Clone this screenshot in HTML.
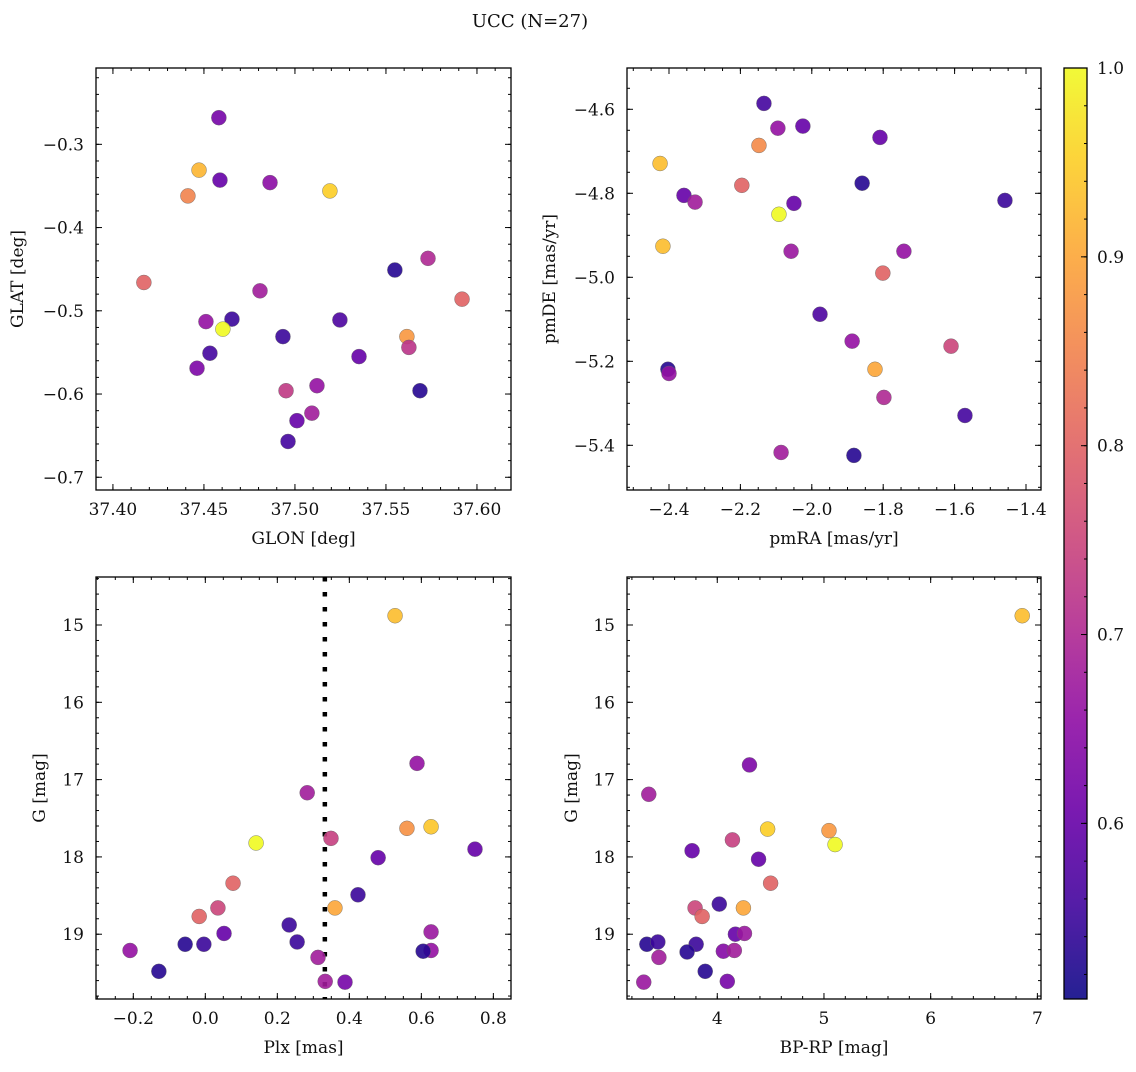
<!DOCTYPE html>
<html><head><meta charset="utf-8"><style>
html,body{margin:0;padding:0;background:#fff}
svg text{font-family:"DejaVu Serif","Liberation Serif",serif;fill:#111}
</style></head><body>
<svg id="fig" width="1136" height="1067" viewBox="0 0 1136 1067" xmlns="http://www.w3.org/2000/svg">
<text x="530" y="27" text-anchor="middle" font-size="18">UCC (N=27)</text>
</svg>
<script>
// ---- data ----
const glon = [37.4582,37.4473,37.4588,37.4412,37.4863,37.5192,37.4170,37.5549,37.5731,37.4808,37.5918,37.4511,37.4654,37.4604,37.5247,37.4934,37.5615,37.4533,37.5352,37.5626,37.4462,37.5121,37.4951,37.5687,37.5093,37.5011,37.4962];
const glat = [-0.268,-0.331,-0.343,-0.362,-0.346,-0.356,-0.466,-0.451,-0.437,-0.476,-0.486,-0.513,-0.510,-0.522,-0.511,-0.531,-0.531,-0.551,-0.555,-0.544,-0.569,-0.590,-0.596,-0.596,-0.623,-0.632,-0.657];
const cTL = [0.62,0.92,0.60,0.85,0.65,0.95,0.80,0.53,0.70,0.68,0.80,0.66,0.55,1.00,0.57,0.55,0.88,0.56,0.60,0.72,0.63,0.66,0.73,0.53,0.68,0.60,0.56];

const pmra = [-2.134,-2.095,-2.025,-2.148,-1.809,-2.425,-2.196,-1.859,-2.358,-2.327,-2.092,-2.050,-1.459,-2.417,-2.058,-1.742,-1.801,-1.977,-1.887,-1.610,-1.823,-2.403,-2.400,-1.798,-1.571,-2.086,-1.882];
const pmde = [-4.586,-4.645,-4.640,-4.686,-4.667,-4.729,-4.781,-4.776,-4.805,-4.821,-4.850,-4.824,-4.817,-4.926,-4.938,-4.938,-4.990,-5.088,-5.152,-5.164,-5.219,-5.219,-5.229,-5.286,-5.329,-5.417,-5.424];
const cTR = [0.56,0.66,0.60,0.86,0.60,0.93,0.80,0.53,0.60,0.68,1.00,0.60,0.55,0.93,0.67,0.66,0.80,0.57,0.66,0.75,0.90,0.53,0.66,0.70,0.56,0.68,0.53];

const plx = [0.527,0.588,0.283,0.141,0.349,0.560,0.627,0.480,0.749,0.077,-0.017,0.035,0.360,0.424,0.233,0.052,0.255,-0.056,-0.004,-0.209,0.313,0.627,0.627,0.605,-0.129,0.333,0.388];
const gBL = [14.88,16.79,17.17,17.82,17.76,17.63,17.61,18.01,17.90,18.34,18.77,18.66,18.66,18.49,18.88,18.99,19.10,19.13,19.13,19.21,19.30,18.97,19.21,19.22,19.48,19.61,19.62];
const cBL = [0.93,0.66,0.68,1.00,0.74,0.87,0.94,0.60,0.60,0.80,0.80,0.75,0.90,0.55,0.55,0.60,0.55,0.53,0.55,0.66,0.68,0.67,0.66,0.53,0.53,0.68,0.62];
const plxLine = 0.332;

const bprp = [6.858,4.302,3.358,4.472,5.047,5.104,4.142,3.764,4.387,4.500,4.019,3.792,3.858,4.245,4.170,4.255,3.340,3.443,3.802,3.717,4.057,4.160,3.453,3.887,3.311,4.094];
const gBR = [14.88,16.81,17.19,17.64,17.66,17.84,17.78,17.92,18.03,18.34,18.61,18.66,18.77,18.66,19.00,18.99,19.13,19.10,19.13,19.23,19.22,19.21,19.30,19.48,19.62,19.61];
const cBR = [0.93,0.63,0.68,0.95,0.88,1.00,0.74,0.60,0.60,0.80,0.55,0.75,0.80,0.90,0.60,0.67,0.53,0.55,0.55,0.53,0.64,0.68,0.68,0.53,0.67,0.62];

const xTicksTL = [37.40,37.45,37.50,37.55,37.60];
const yTicksTL = [-0.3,-0.4,-0.5,-0.6,-0.7];
const xTicksTR = [-2.4,-2.2,-2.0,-1.8,-1.6,-1.4];
const yTicksTR = [-4.6,-4.8,-5.0,-5.2,-5.4];
const xTicksBL = [-0.2,0.0,0.2,0.4,0.6,0.8];
const yTicksG = [15,16,17,18,19];
const xTicksBR = [4,5,6,7];
const cbTicks = [0.6,0.7,0.8,0.9,1.0];
const cmin = 0.507, cmax = 1.0;

// ---- drawing ----
const NS = 'http://www.w3.org/2000/svg';
const svg = document.getElementById('fig');
const FS = 17;
function mk(tag, attrs, parent){const e=document.createElementNS(NS,tag);for(const k in attrs)e.setAttribute(k,attrs[k]);(parent||svg).appendChild(e);return e;}
const stops=[[0,[13,8,135]],[0.1,[65,4,157]],[0.2,[106,0,168]],[0.3,[143,13,164]],[0.4,[177,42,144]],[0.5,[204,71,120]],[0.6,[225,100,98]],[0.7,[242,132,75]],[0.8,[252,166,54]],[0.9,[252,206,37]],[1,[240,249,33]]];
function plasma(t){t=Math.max(0,Math.min(1,t));for(let i=1;i<stops.length;i++){if(t<=stops[i][0]){const a=stops[i-1],b=stops[i],f=(t-a[0])/(b[0]-a[0]);return 'rgb('+a[1].map((v,j)=>Math.round(v+(b[1][j]-v)*f)).join(',')+')';}}return 'rgb(240,249,33)';}
function colorOf(c){return plasma((c-cmin)/(cmax-cmin));}
function fmt(v,d){const s=Math.abs(v).toFixed(d);return (v<-1e-9?'\u2212':'')+s;}

function panel(o){
  const g=mk('g',{});
  
  
  const sx=v=>o.L+(v-o.xmin)/(o.xmax-o.xmin)*(o.R-o.L);
  const sy=v=>o.B-(v-o.ybot)/(o.ytop-o.ybot)*(o.B-o.T);
  const ticks=mk('g',{stroke:'#000','stroke-width':1},g);
  
  
  const xa=Math.min(o.xmin,o.xmax), xb=Math.max(o.xmin,o.xmax);
  for(let v=Math.ceil(xa/o.xminor-1e-6)*o.xminor; v<=xb+1e-9; v+=o.xminor){const X=sx(v);mk('line',{x1:X,x2:X,y1:o.B,y2:o.B-3},ticks);mk('line',{x1:X,x2:X,y1:o.T,y2:o.T+3},ticks);}
  const ya=Math.min(o.ybot,o.ytop), yb=Math.max(o.ybot,o.ytop);
  for(let v=Math.ceil(ya/o.yminor-1e-6)*o.yminor; v<=yb+1e-9; v+=o.yminor){const Y=sy(v);mk('line',{x1:o.L,x2:o.L+3,y1:Y,y2:Y},ticks);mk('line',{x1:o.R,x2:o.R-3,y1:Y,y2:Y},ticks);}
  o.xt.forEach(v=>{const X=sx(v);mk('line',{x1:X,x2:X,y1:o.B,y2:o.B-6},ticks);mk('line',{x1:X,x2:X,y1:o.T,y2:o.T+6},ticks);
    const t=mk('text',{x:X,y:o.B+25,'text-anchor':'middle','font-size':FS},g);t.textContent=fmt(v,o.xd);
    
    });
  o.yt.forEach(v=>{const Y=sy(v);mk('line',{x1:o.L,x2:o.L+6,y1:Y,y2:Y},ticks);mk('line',{x1:o.R,x2:o.R-6,y1:Y,y2:Y},ticks);
    const t=mk('text',{x:o.L-12,y:Y+6,'text-anchor':'end','font-size':FS},g);t.textContent=fmt(v,o.yd);
    
    });
  if(o.vline!==undefined){const l=mk('line',{x1:sx(o.vline),x2:sx(o.vline),y1:o.T,y2:o.B,stroke:'#000','stroke-width':4.5,'stroke-dasharray':'4.5 10.5'},g);
    
    }
  const pts=mk('g',{},g);
  
  
  o.x.forEach((xv,i)=>{const c=mk('circle',{cx:sx(xv),cy:sy(o.y[i]),r:7.5,fill:colorOf(o.c[i]),'fill-opacity':0.9,stroke:'#666','stroke-width':0.4},pts);
    
    });
  const fr=mk('rect',{x:o.L,y:o.T,width:o.R-o.L,height:o.B-o.T,fill:'none',stroke:'#000','stroke-width':1.3},g);
  
  
  const xl=mk('text',{x:(o.L+o.R)/2,y:o.B+54,'text-anchor':'middle','font-size':FS},g);xl.textContent=o.xlab;
  
  
  const yl=mk('text',{x:0,y:0,'text-anchor':'middle','font-size':FS,transform:'translate('+o.ylx+','+(o.T+o.B)/2+') rotate(-90)'},g);yl.textContent=o.ylab;
  
  
}
panel({name:'glon-glat-panel',L:96,R:511,T:68,B:490,xmin:37.3907,xmax:37.6187,ybot:-0.7153,ytop:-0.2083,xt:xTicksTL,yt:yTicksTL,xminor:0.01,yminor:0.02,xd:2,yd:1,x:glon,y:glat,c:cTL,xlab:'GLON [deg]',ylab:'GLAT [deg]',ylx:23});
panel({name:'pm-panel',L:627,R:1041,T:68,B:490,xmin:-2.5176,xmax:-1.358,ybot:-5.5064,ytop:-4.5017,xt:xTicksTR,yt:yTicksTR,xminor:0.05,yminor:0.05,xd:1,yd:1,x:pmra,y:pmde,c:cTR,xlab:'pmRA [mas/yr]',ylab:'pmDE [mas/yr]',ylx:555});
panel({name:'plx-g-panel',L:96,R:511,T:577,B:999,xmin:-0.3036,xmax:0.849,ybot:19.838,ytop:14.379,xt:xTicksBL,yt:yTicksG,xminor:0.05,yminor:0.2,xd:1,yd:0,x:plx,y:gBL,c:cBL,xlab:'Plx [mas]',ylab:'G [mag]',ylx:45,vline:plxLine});
panel({name:'cmd-panel',L:627,R:1041,T:577,B:999,xmin:3.154,xmax:7.034,ybot:19.838,ytop:14.379,xt:xTicksBR,yt:yTicksG,xminor:0.2,yminor:0.2,xd:0,yd:0,x:bprp,y:gBR,c:cBR,xlab:'BP-RP [mag]',ylab:'G [mag]',ylx:577});

// colorbar
const cb=mk('g',{});


const CL=1064,CR=1087,CT=68,CB=999;
const defs=mk('defs',{},cb);
const lg=mk('linearGradient',{id:'cbg',x1:0,y1:1,x2:0,y2:0},defs);
for(let i=0;i<=20;i++){mk('stop',{offset:i/20,'stop-color':plasma(i/20),'stop-opacity':0.9},lg);}
mk('rect',{x:CL,y:CT,width:CR-CL,height:CB-CT,fill:'url(#cbg)',stroke:'#000','stroke-width':1.3},cb);
const cy=v=>CB-(v-cmin)/(cmax-cmin)*(CB-CT);
for(let v=0.52;v<=1.0001;v+=0.02){mk('line',{x1:CR,x2:CR-3,y1:cy(v),y2:cy(v),stroke:'#000'},cb);}
cbTicks.forEach(v=>{mk('line',{x1:CR,x2:CR-6,y1:cy(v),y2:cy(v),stroke:'#000'},cb);
  const t=mk('text',{x:CR+10,y:cy(v)+6,'font-size':FS},cb);t.textContent=v.toFixed(1);
  
  });
</script>
</body></html>
